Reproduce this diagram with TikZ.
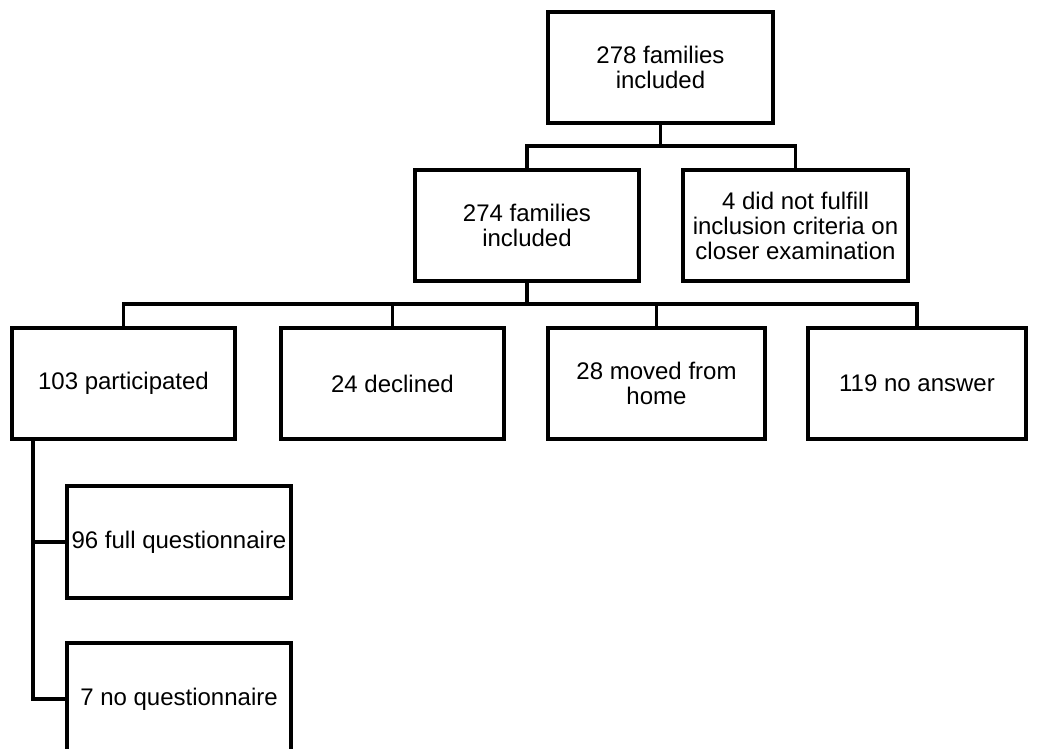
\documentclass[tikz,border=0pt]{standalone}
\usepackage{fontspec}
\setmainfont{Liberation Sans}
\begin{document}
\begin{tikzpicture}[x=1pt,y=-1pt,
  box/.style={draw, line width=3.2pt, minimum width=#1, minimum height=111pt,
    inner sep=0pt, align=center, font=\fontsize{24}{25}\selectfont},
  box/.default=224pt,
  link/.style={draw, line width=3.2pt}]
\path[use as bounding box, clip] (0,0) rectangle (1039,749);
\fill[white] (0,0) rectangle (1039,749);

% first level
\node[box=225pt] (top) at (660.5,67.5) {278 families\\included};

% second level
\node[box=224pt] (inc) at (527,225.5) {274 families\\included};
\node[box=225pt] (excl) at (795.5,225.5) {4 did not fulfill\\inclusion criteria on\\closer examination};

% third level
\node[box=223pt] (part) at (123.5,383.5) {103 participated};
\node[box=223pt] (decl) at (392.5,383.5) {24 declined};
\node[box=217pt] (moved) at (656.5,383.5) {28 moved from\\home};
\node[box=218pt] (noans) at (917,383.5) {119 no answer};

% questionnaire split
\node[box=224pt, minimum height=112pt] (full) at (179,542) {96 full questionnaire};
\node[box=224pt, minimum height=112pt] (noq) at (179,699) {7 no questionnaire};

% junctions
\coordinate (j1) at (660.5,146);
\coordinate (j2) at (527,304);
\coordinate (s0) at (33,439);

\draw[link] (top.south) -- (j1);
\draw[link] (j1) -| (inc.north);
\draw[link] (j1) -| (excl.north);

\draw[link] (inc.south) -- (j2);
\draw[link] (j2) -| (part.north);
\draw[link] (j2) -| (decl.north);
\draw[link] (j2) -| (moved.north);
\draw[link] (j2) -| (noans.north);

\draw[link] (s0) |- (full.west);
\draw[link] (s0) |- (noq.west);
\end{tikzpicture}
\end{document}
